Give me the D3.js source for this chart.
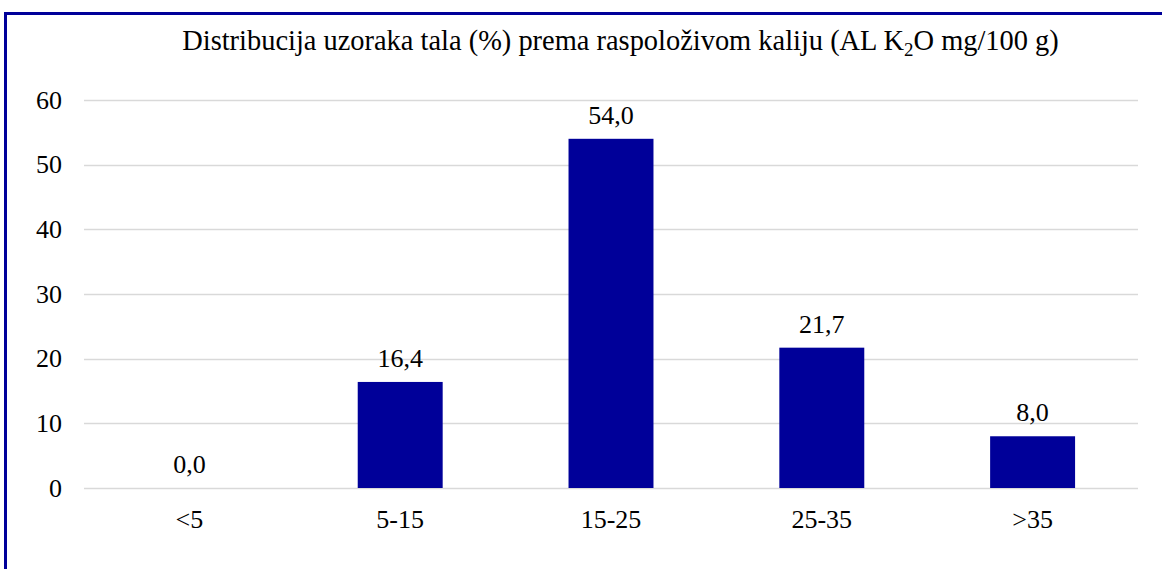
<!DOCTYPE html>
<html>
<head>
<meta charset="utf-8">
<script src="https://cdn.jsdelivr.net/npm/d3@7"></script>
<style>
  html, body { margin: 0; padding: 0; background: #fff; overflow: hidden; }
  svg { display: block; }
</style>
</head>
<body>
<svg id="chart" width="1162" height="569"></svg>
<script>
const categories = ["<5", "5-15", "15-25", "25-35", ">35"];
const values = [0.0, 16.4, 54.0, 21.7, 8.0];
const yTicks = [0, 10, 20, 30, 40, 50, 60];
const titleMain = "Distribucija uzoraka tala (%) prema raspoloživom kaliju (AL K";
const titleSub = "2";
const titleEnd = "O mg/100 g)";

(function () {
const FONT = '"Liberation Serif"';
const svg = d3.select("#chart");
const W = 1162, H = 569;
const plotLeft = 84, plotRight = 1138, plotTop = 100, plotBottom = 488;
const labelSize = 26;

svg.append("rect").attr("x", 0).attr("y", 0).attr("width", W).attr("height", H).attr("fill", "#fff");

// border
svg.append("rect")
  .attr("x", 5.5).attr("y", 13.5)
  .attr("width", 1300).attr("height", 700)
  .attr("fill", "none").attr("stroke", "#000099").attr("stroke-width", 3);

const x = d3.scaleBand().domain(categories).range([plotLeft, plotRight])
  .paddingInner(0.597).paddingOuter(0.2985);
const y = d3.scaleLinear().domain([0, 60]).range([plotBottom, plotTop]);

// gridlines
svg.append("g").selectAll("line").data(yTicks).join("line")
  .attr("x1", plotLeft).attr("x2", plotRight)
  .attr("y1", d => Math.round(y(d)) + 0.5).attr("y2", d => Math.round(y(d)) + 0.5)
  .attr("stroke", "#d9d9d9").attr("stroke-width", 1.5);

// y tick labels
svg.append("g").selectAll("text").data(yTicks).join("text")
  .attr("x", 62).attr("y", d => y(d) + 8.5)
  .attr("text-anchor", "end").attr("font-size", labelSize)
  .style("font-family", FONT).attr("fill", "#000")
  .text(d => d);

// bars
svg.append("g").selectAll("rect").data(values).join("rect")
  .attr("x", (d, i) => x(categories[i]))
  .attr("width", x.bandwidth())
  .attr("y", d => y(d))
  .attr("height", d => y(0) - y(d))
  .attr("fill", "#000099");

// value labels
svg.append("g").selectAll("text").data(values).join("text")
  .attr("x", (d, i) => x(categories[i]) + x.bandwidth() / 2)
  .attr("y", d => y(d) - 15)
  .attr("text-anchor", "middle").attr("font-size", labelSize)
  .style("font-family", FONT).attr("fill", "#000")
  .text(d => d.toFixed(1).replace(".", ","));

// x labels
svg.append("g").selectAll("text").data(categories).join("text")
  .attr("x", d => x(d) + x.bandwidth() / 2)
  .attr("y", 528)
  .attr("text-anchor", "middle").attr("font-size", labelSize)
  .style("font-family", FONT).attr("fill", "#000")
  .text(d => d);

// title (fitted to the reference width)
const titleCx = 620.5, titleW = 877, titleY = 50;
const tg = svg.append("g");
const t = tg.append("text").attr("x", 0).attr("y", 0)
  .attr("text-anchor", "middle").attr("font-size", 28.5)
  .style("font-family", FONT).attr("fill", "#000");
t.append("tspan").style("font-family", FONT).text(titleMain);
t.append("tspan").style("font-family", FONT).attr("font-size", 19).attr("dy", 6).text(titleSub);
t.append("tspan").style("font-family", FONT).attr("dy", -6).text(titleEnd);
let sx = 1;
try {
  const bb = t.node().getBBox();
  if (bb.width > 0) sx = Math.max(0.9, Math.min(1.1, titleW / bb.width));
} catch (e) {}
tg.attr("transform", `translate(${titleCx},${titleY}) scale(${sx},1)`);
})();
</script>
</body>
</html>
